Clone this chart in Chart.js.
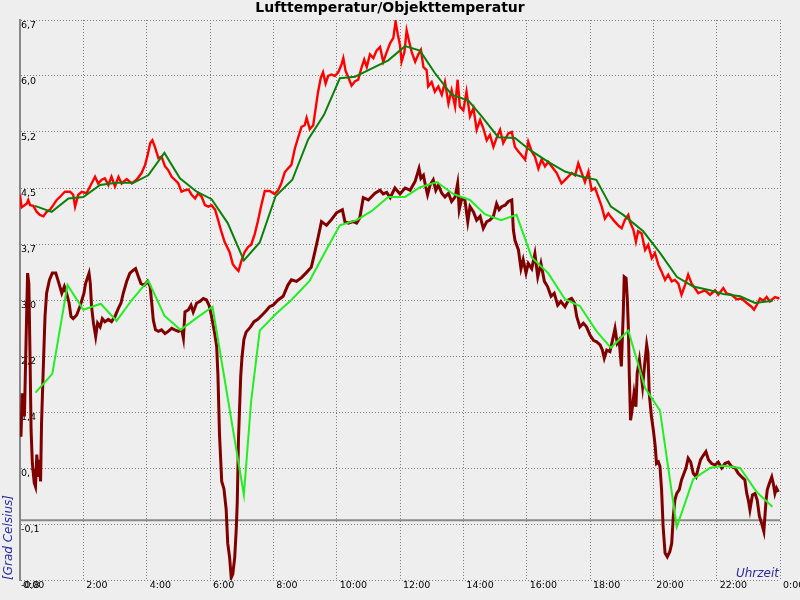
<!DOCTYPE html>
<html><head><meta charset="utf-8">
<script src="https://cdn.jsdelivr.net/npm/chart.js@4.4.0/dist/chart.umd.min.js"></script>
<style>html,body{margin:0;padding:0;background:#eeeeee;overflow:hidden}#wrap{width:800px;height:600px}</style>
</head><body><div id="wrap"><canvas id="c" width="800" height="600"></canvas></div>
<script>
const chartTitle = 'Lufttemperatur/Objekttemperatur';
const yAxisTitle = '[Grad Celsius]';
const xAxisTitle = 'Uhrzeit';
const xTickValues = [0,2,4,6,8,10,12,14,16,18,20,22,24];
const xTickLabels = ['0:00','2:00','4:00','6:00','8:00','10:00','12:00','14:00','16:00','18:00','20:00','22:00','0:00'];
const yTickValues = [-0.8,-0.05,0.7,1.45,2.2,2.95,3.7,4.45,5.2,5.95,6.7];
const yTickLabels = ['-0,8','-0,1','0,7','1,4','2,2','3,0','3,7','4,5','5,2','6,0','6,7'];

// Lufttemperatur (Messwerte, rot)
const airTimes = [0.00,0.05,0.21,0.26,0.32,0.42,0.53,0.63,0.74,0.84,0.95,1.05,1.16,1.26,1.37,1.42,1.58,1.68,1.74,1.84,1.95,2.10,2.26,2.37,2.47,2.58,2.68,2.79,2.89,3.00,3.11,3.21,3.37,3.53,3.68,3.84,3.95,4.03,4.11,4.18,4.26,4.37,4.47,4.58,4.68,4.79,4.89,5.00,5.10,5.21,5.32,5.42,5.53,5.63,5.74,5.84,5.95,6.05,6.16,
6.25,6.35,6.46,6.62,6.72,6.83,6.90,6.99,7.09,7.20,7.30,7.41,7.51,7.62,7.73,7.88,8.04,8.15,8.25,8.36,8.46,8.57,8.68,8.78,8.89,8.99,9.05,9.15,9.26,9.31,9.41,9.50,9.57,9.65,9.73,9.84,9.94,10.05,10.15,10.21,10.28,10.37,10.47,10.58,10.68,10.79,10.87,10.95,11.05,11.16,11.26,11.37,11.47,11.58,11.69,11.79,11.86,11.93,12.00,12.05,12.14,12.21,12.29,12.37,12.48,12.58,
12.66,12.74,12.84,12.89,13.00,13.10,13.21,13.32,13.42,13.53,13.63,13.74,13.82,13.89,14.00,14.10,14.21,14.32,14.42,14.53,14.63,14.74,14.84,14.95,15.05,15.16,15.26,15.42,15.53,15.63,15.74,15.84,15.95,16.05,16.16,16.26,16.37,16.47,16.58,16.68,16.84,16.95,17.10,17.26,17.42,17.53,17.63,17.74,17.84,17.95,18.05,18.16,18.26,18.37,18.47,18.58,
18.63,18.74,18.89,19.00,19.10,19.21,19.26,19.37,19.45,19.52,19.63,19.74,19.84,19.95,20.05,20.16,20.26,20.37,20.47,20.58,20.68,20.79,20.89,21.00,21.10,21.21,21.31,21.42,21.52,21.63,21.79,21.95,22.05,22.21,22.31,22.47,22.63,22.79,22.95,23.10,23.18,23.26,23.37,23.47,23.58,23.68,23.84,23.98];
const airTemps = [4.36,4.19,4.24,4.29,4.22,4.21,4.13,4.09,4.07,4.13,4.16,4.22,4.29,4.33,4.38,4.40,4.40,4.36,4.20,4.36,4.40,4.38,4.51,4.60,4.51,4.56,4.58,4.49,4.60,4.47,4.60,4.51,4.57,4.51,4.56,4.65,4.76,4.89,5.05,5.09,5.00,4.85,4.87,4.74,4.69,4.60,4.56,4.51,4.40,4.42,4.43,4.36,4.31,4.38,4.33,4.22,4.20,4.22,4.16,
4.03,3.88,3.73,3.59,3.43,3.37,3.34,3.47,3.59,3.66,3.69,3.83,4.00,4.22,4.41,4.41,4.37,4.42,4.51,4.66,4.71,4.76,4.98,5.12,5.27,5.29,5.39,5.24,5.29,5.44,5.73,5.93,6.00,5.85,5.95,5.97,5.95,6.00,6.10,6.19,6.02,5.93,5.82,5.88,5.90,6.07,6.17,6.07,6.24,6.19,6.29,6.34,6.14,6.27,6.39,6.46,6.68,6.51,6.36,6.14,6.27,6.56,6.41,6.27,6.14,6.24,
6.30,6.07,6.03,5.81,5.87,5.74,5.81,5.70,5.87,5.58,5.76,5.54,5.90,5.54,5.49,5.74,5.41,5.52,5.23,5.36,5.25,5.09,5.16,5.00,5.12,5.23,5.05,5.18,5.20,5.00,4.94,4.89,4.83,5.07,4.94,4.87,4.71,4.83,4.74,4.80,4.71,4.65,4.51,4.58,4.65,4.62,4.78,4.65,4.53,4.67,4.42,4.45,4.33,4.20,4.04,4.11,
4.08,4.02,3.95,3.91,4.02,4.09,4.00,3.89,3.73,3.87,3.84,3.62,3.69,3.51,3.58,3.42,3.33,3.22,3.29,3.20,3.22,3.17,3.02,3.15,3.29,3.17,3.11,3.04,3.06,3.08,3.02,3.08,3.02,3.11,3.04,3.02,2.96,2.97,2.91,2.86,2.82,2.88,2.97,2.94,2.99,2.93,2.99,2.97];

// Lufttemperatur (geglaettet, dunkelgruen)
const airSmoothTimes = [0.47,1.00,1.53,2.00,2.53,3.05,3.58,4.05,4.56,5.05,5.58,6.05,6.56,7.07,7.57,8.07,8.60,9.10,9.60,10.10,10.58,11.10,11.63,12.16,12.63,13.10,13.63,14.16,14.58,15.10,15.63,16.10,16.68,17.21,17.74,18.20,18.66,19.05,19.68,20.21,20.74,21.26,21.79,22.21,22.74,23.21,23.77];
const airSmoothTemps = [4.21,4.13,4.31,4.33,4.49,4.52,4.52,4.62,4.92,4.58,4.40,4.30,3.98,3.48,3.72,4.34,4.56,5.10,5.43,5.92,5.94,6.05,6.16,6.35,6.29,5.99,5.70,5.62,5.41,5.13,5.12,4.96,4.80,4.67,4.60,4.56,4.20,4.09,3.87,3.58,3.26,3.13,3.08,3.03,3.00,2.91,2.94];

// Objekttemperatur (Messwerte, dunkelrot)
const objTimes = [0.00,0.03,0.07,0.14,0.19,0.24,0.28,0.32,0.35,0.39,0.45,0.49,0.53,0.58,0.61,0.65,0.68,0.74,0.79,0.84,0.93,1.02,1.13,1.21,1.32,1.40,1.47,1.55,1.61,1.68,1.79,1.89,1.97,2.02,2.07,2.14,2.18,2.22,2.26,2.32,2.39,2.45,2.53,2.60,2.68,2.79,2.89,3.00,3.11,3.19,3.26,3.37,3.47,3.58,3.65,3.74,3.82,3.93,4.03,4.11,4.16,4.21,4.28,4.37,4.47,4.58,4.68,4.79,4.89,5.00,5.11,5.16,5.21,5.32,5.40,5.47,5.58,5.68,5.79,5.89,5.97,6.05,
6.14,6.21,6.25,6.30,6.37,6.44,6.51,6.56,6.62,6.67,6.72,6.78,6.83,6.86,6.90,6.97,7.01,7.07,7.14,7.28,7.39,7.51,7.67,7.78,7.88,7.99,8.15,8.31,8.46,8.57,8.73,8.89,9.05,9.20,9.31,9.41,9.52,9.68,9.84,10.00,10.18,10.26,10.37,10.52,10.63,10.73,10.84,11.00,11.21,11.37,11.47,11.58,11.69,11.84,12.00,12.16,12.32,12.48,12.60,
12.66,12.74,12.81,12.87,12.95,13.05,13.13,13.21,13.32,13.42,13.53,13.63,13.74,13.82,13.87,13.95,14.05,14.14,14.21,14.32,14.42,14.53,14.63,14.74,14.84,14.95,15.05,15.13,15.21,15.32,15.42,15.53,15.58,15.63,15.74,15.82,15.89,15.98,16.05,16.16,16.26,16.35,16.45,16.56,16.66,16.77,16.87,16.98,17.08,17.21,17.32,17.42,17.51,17.58,17.68,17.79,17.89,18.00,18.11,18.21,18.32,18.39,18.45,18.53,18.63,
18.71,18.79,18.86,18.92,18.99,19.05,19.08,19.14,19.18,19.21,19.24,19.28,19.32,19.39,19.45,19.49,19.56,19.61,19.66,19.72,19.79,19.83,19.87,19.94,20.00,20.06,20.10,20.16,20.21,20.26,20.31,20.37,20.44,20.52,20.58,20.63,20.68,20.74,20.82,20.89,20.97,21.03,21.10,21.18,21.26,21.35,21.42,21.49,21.58,21.66,21.74,21.84,21.95,22.05,22.16,22.26,22.37,22.47,22.58,22.68,22.79,22.89,22.95,23.00,23.05,23.13,23.21,23.28,23.35,23.42,23.49,23.56,23.60,23.66,23.74,23.79,23.84,23.89,23.95];
const objTemps = [1.30,1.12,1.70,1.39,2.37,3.31,3.17,2.10,1.21,0.76,0.50,0.45,0.88,0.58,0.81,0.52,1.30,2.10,2.73,3.04,3.22,3.31,3.31,3.20,3.04,3.13,3.04,2.91,2.73,2.70,2.75,2.86,2.97,3.04,3.17,3.26,3.31,3.17,2.86,2.64,2.46,2.64,2.59,2.70,2.66,2.69,2.66,2.73,2.84,2.91,3.04,3.20,3.31,3.35,3.37,3.26,3.17,3.15,3.20,3.13,2.91,2.68,2.55,2.53,2.55,2.50,2.53,2.57,2.55,2.53,2.55,2.44,2.79,2.82,2.88,2.79,2.91,2.93,2.97,2.95,2.88,2.73,
2.52,2.33,1.95,1.15,0.52,0.42,0.15,-0.31,-0.50,-0.77,-0.72,-0.50,-0.11,0.23,1.10,1.93,2.18,2.42,2.52,2.59,2.66,2.69,2.76,2.81,2.86,2.88,2.95,3.00,3.15,3.22,3.20,3.25,3.32,3.39,3.59,3.78,4.00,3.95,4.03,4.12,4.16,4.00,3.98,4.00,3.98,4.05,4.32,4.29,4.38,4.42,4.37,4.39,4.32,4.45,4.37,4.45,4.42,4.54,4.71,
4.58,4.62,4.47,4.36,4.49,4.56,4.42,4.49,4.38,4.33,4.38,4.27,4.33,4.51,4.16,4.31,4.29,4.00,4.20,4.13,4.02,4.07,3.91,4.00,4.02,4.07,4.24,4.16,4.20,4.22,4.27,4.29,3.89,3.75,3.62,3.37,3.49,3.31,3.44,3.37,3.57,3.26,3.44,3.20,3.13,3.00,3.04,2.88,2.93,2.86,2.95,2.97,2.91,2.73,2.59,2.64,2.59,2.48,2.41,2.39,2.35,2.28,2.17,2.28,2.26,
2.41,2.57,2.37,2.41,2.06,2.77,3.26,3.24,2.95,2.59,1.97,1.34,1.45,1.70,1.52,1.97,2.15,1.97,1.79,2.06,2.35,2.24,1.70,1.39,1.21,0.99,0.76,0.78,0.72,0.41,-0.09,-0.44,-0.49,-0.42,-0.31,0.05,0.27,0.36,0.41,0.54,0.63,0.70,0.83,0.78,0.63,0.58,0.70,0.81,0.87,0.92,0.81,0.76,0.74,0.78,0.70,0.76,0.78,0.72,0.70,0.63,0.58,0.54,0.36,0.27,0.14,0.34,0.36,0.27,0.05,-0.04,-0.15,0.27,0.41,0.49,0.58,0.49,0.36,0.43,0.38];

// Objekttemperatur (geglaettet, hellgruen)
const objSmoothTimes = [0.49,1.02,1.50,2.00,2.55,3.05,3.53,4.05,4.56,5.07,5.58,6.08,7.07,7.30,7.57,8.07,8.57,9.15,9.63,10.10,10.63,11.10,11.63,12.16,12.64,13.16,13.68,14.21,14.68,15.19,15.68,16.16,16.68,17.21,17.68,18.21,18.66,19.21,19.74,20.21,20.74,21.26,21.79,22.21,22.74,23.26,23.76];
const objSmoothTemps = [1.71,1.96,3.15,2.82,2.90,2.67,2.95,3.21,2.74,2.55,2.71,2.86,0.34,1.60,2.54,2.76,2.95,3.21,3.59,3.95,4.02,4.14,4.33,4.33,4.46,4.53,4.37,4.29,4.10,4.02,4.09,3.52,3.31,2.96,2.87,2.53,2.31,2.54,1.77,1.47,-0.09,0.55,0.70,0.73,0.70,0.38,0.18];

// Nulllinie
const zeroTimes = [0,24];
const zeroTemps = [0,0];

const pts = (xs, ys) => xs.map((x, i) => ({x: x, y: ys[i]}));
const tickFont = {family: 'DejaVu Sans', size: 9.5};
const gridColor = '#7d7d7d';

const axisLabelPlugin = {
  id: 'axisLabel',
  afterDraw(chart) {
    const {ctx, chartArea} = chart;
    ctx.save();
    ctx.font = 'italic 12px "DejaVu Sans"';
    ctx.fillStyle = '#2a2a9f';
    ctx.textAlign = 'right';
    ctx.textBaseline = 'alphabetic';
    ctx.fillText(xAxisTitle, chartArea.right - 1, chartArea.bottom - 3);
    ctx.restore();
  }
};

const lineBase = {pointRadius: 0, pointHoverRadius: 0, tension: 0, fill: false, borderJoinStyle: 'miter'};

new Chart(document.getElementById('c'), {
  type: 'line',
  data: {
    datasets: [
      Object.assign({label: 'Objekttemperatur Mittel', data: pts(objSmoothTimes, objSmoothTemps), borderColor: '#22ee22', borderWidth: 2, order: 1}, lineBase),
      Object.assign({label: 'Lufttemperatur Mittel', data: pts(airSmoothTimes, airSmoothTemps), borderColor: '#0a800a', borderWidth: 2, order: 2}, lineBase),
      Object.assign({label: 'Lufttemperatur', data: pts(airTimes, airTemps), borderColor: '#ff0000', borderWidth: 2.4, order: 3}, lineBase),
      Object.assign({label: 'Objekttemperatur', data: pts(objTimes, objTemps), borderColor: '#800000', borderWidth: 3, order: 4}, lineBase),
      Object.assign({label: 'Null', data: pts(zeroTimes, zeroTemps), borderColor: '#888888', borderWidth: 2, order: 5}, lineBase)
    ]
  },
  options: {
    responsive: false,
    devicePixelRatio: 1,
    animation: false,
    events: [],
    layout: {padding: {left: 0, top: 0, right: 20, bottom: 0}},
    plugins: {
      legend: {display: false},
      tooltip: {enabled: false},
      title: {
        display: true, text: chartTitle, color: '#000000',
        font: {family: 'DejaVu Sans', size: 14, weight: 'bold', lineHeight: 1.2},
        padding: {top: 0, bottom: 3.2}
      }
    },
    scales: {
      x: {
        type: 'linear', min: 0, max: 24,
        afterBuildTicks: s => { s.ticks = xTickValues.map(v => ({value: v})); },
        afterFit: s => { s.height = 20; s.paddingLeft = 0; s.paddingRight = 0; },
        ticks: {
          callback: (v, i) => xTickLabels[i], align: 'start', labelOffset: 3, padding: 0,
          maxRotation: 0, minRotation: 0, autoSkip: false, font: tickFont, color: '#000000'
        },
        grid: {color: gridColor, lineWidth: 1, drawTicks: false},
        border: {display: false, dash: [1, 2]}
      },
      y: {
        type: 'linear', min: -0.8, max: 6.7,
        afterBuildTicks: s => { s.ticks = yTickValues.map(v => ({value: v})); },
        afterFit: s => { s.width = 20; s.paddingTop = 0; s.paddingBottom = 0; },
        ticks: {
          callback: (v, i) => yTickLabels[i], mirror: true, padding: 1, labelOffset: 5.5,
          autoSkip: false, font: tickFont, color: '#000000'
        },
        grid: {color: gridColor, lineWidth: 1, drawTicks: false},
        border: {display: true, color: '#888888', width: 2, dash: [1, 2]},
        title: {
          display: true, text: yAxisTitle, align: 'start', color: '#2a2a9f',
          font: {family: 'DejaVu Sans', size: 12, style: 'italic'},
          padding: {top: 1.5, bottom: 0}
        }
      }
    }
  },
  plugins: [axisLabelPlugin]
});
</script>
</body></html>
